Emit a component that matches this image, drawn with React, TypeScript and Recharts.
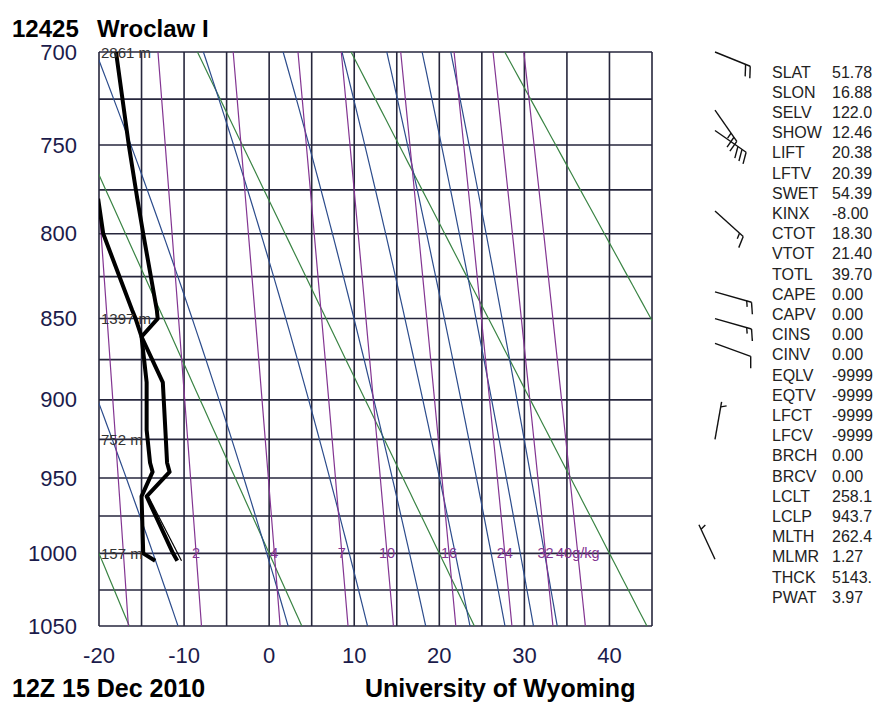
import React from "react";
import { ComposedChart, Line, Scatter, XAxis, YAxis, CartesianGrid } from "recharts";

const FONT = "'Liberation Sans', Arial, Helvetica, sans-serif";
const KAPPA = 0.286;
// vertical coordinate of the Stuve diagram: p^kappa
const py = (p: number) => Math.pow(p, KAPPA);

// sounding (hPa, degC)
const levels = [1005, 1000, 962, 946, 940, 919, 889, 861, 850, 845, 800, 780, 750, 700];
const temps = [-10.8, -11.3, -14.4, -11.7, -12.0, -12.2, -12.5, -15.0, -13.1, -13.2, -14.8, -15.5, -16.5, -18.0];
const dewpts = [-13.4, -14.8, -15.0, -13.7, -14.0, -14.4, -14.4, -15.0, -15.7, -16.1, -19.5, -20.1, null, null];

// thin parcel line near the ground
const parcelLevels = [1005, 962];
const parcelTemps = [-10.3, -14.2];

// geopotential heights written on the left
const heightLevels = [700, 850, 925, 1000];
const heightLabels = ["2861 m", "1397 m", "752 m", "157 m"];

// background lines
const dryAdiabats = [-20, 0, 20, 40, 60]; // theta, degC
const moistThetaE = [-10, 10, 30, 50, 70, 90, 110, 130]; // theta-e, degC
const mixingRatios = [1, 2, 4, 7, 10, 16, 24, 32, 40]; // g/kg
const mixingLabels = ["", "2", "4", "7", "10", "16", "24", "32", "40g/kg"];

// wind barbs (hPa, direction deg, speed kt)
const windLevels = [700, 731, 742, 787, 834, 850, 865, 925, 1004];
const windDirs = [112, 145, 125, 132, 106, 106, 110, 10, 335];
const windSpeeds = [20, 25, 30, 15, 15, 15, 10, 5, 5];

// station indices
const indexNames = ["SLAT", "SLON", "SELV", "SHOW", "LIFT", "LFTV", "SWET", "KINX", "CTOT", "VTOT", "TOTL", "CAPE", "CAPV", "CINS", "CINV", "EQLV", "EQTV", "LFCT", "LFCV", "BRCH", "BRCV", "LCLT", "LCLP", "MLTH", "MLMR", "THCK", "PWAT"];
const indexValues = ["51.78", "16.88", "122.0", "12.46", "20.38", "20.39", "54.39", "-8.00", "18.30", "21.40", "39.70", "0.00", "0.00", "0.00", "0.00", "-9999", "-9999", "-9999", "-9999", "0.00", "0.00", "258.1", "943.7", "262.4", "1.27", "5143.", "3.97"];

const pressureTicks = [700, 725, 750, 775, 800, 825, 850, 875, 900, 925, 950, 975, 1000, 1025, 1050];
const tempTicks = [-20, -15, -10, -5, 0, 5, 10, 15, 20, 25, 30, 35, 40, 45];

const GREEN = "#3a8444";
const BLUE = "#2c4c8c";
const PURPLE = "#833592";

const pGrid: number[] = [];
for (let p = 690; p <= 1060; p += 5) pGrid.push(p);

const satVap = (t: number) => 6.112 * Math.exp((17.67 * t) / (t + 243.5));
const mixRatio = (t: number, p: number) => {
  const e = satVap(t);
  return (622 * e) / (p - e);
};
const thetaE = (t: number, p: number) => {
  const tk = t + 273.15;
  const r = mixRatio(t, p);
  const th = tk * Math.pow(1000 / p, 0.2854 * (1 - 0.00028 * r));
  return th * Math.exp((3.376 / tk - 0.00254) * r * (1 + 0.00081 * r));
};
const tempOnThetaE = (target: number, p: number) => {
  let lo = -80;
  let hi = 60;
  for (let i = 0; i < 50; i++) {
    const mid = (lo + hi) / 2;
    if (thetaE(mid, p) > target) hi = mid;
    else lo = mid;
  }
  return (lo + hi) / 2;
};
const tempOnMixing = (w: number, p: number) => {
  const e = (w * p) / (622 + w);
  const l = Math.log(e / 6.112);
  return (243.5 * l) / (17.67 - l);
};

const dryLines = dryAdiabats.map((th) =>
  pGrid.map((p) => ({ t: (th + 273.15) * Math.pow(p / 1000, KAPPA) - 273.15, y: py(p) }))
);
const moistLines = moistThetaE.map((te) => pGrid.map((p) => ({ t: tempOnThetaE(te + 273.15, p), y: py(p) })));
const mixLines = mixingRatios.map((w) => pGrid.map((p) => ({ t: tempOnMixing(w, p), y: py(p) })));

const tempData = levels.map((p, i) => ({ t: temps[i], y: py(p) }));
const dewData = levels
  .map((p, i) => ({ t: dewpts[i], y: py(p) }))
  .filter((d) => d.t !== null);
const parcelData = parcelLevels.map((p, i) => ({ t: parcelTemps[i], y: py(p) }));
const heightData = heightLevels.map((p, i) => ({ t: -20, y: py(p), label: heightLabels[i] }));
const mixLabelData = mixingRatios
  .map((w, i) => ({ t: tempOnMixing(w, 1000), y: py(1000), label: mixingLabels[i] }))
  .filter((d) => d.label !== "");
const windData = windLevels.map((p, i) => ({ x: 0, y: py(p), dir: windDirs[i], spd: windSpeeds[i] }));

const PTick = (props: any) => {
  const { x, y, payload } = props;
  const p = Math.round(Math.pow(payload.value, 1 / KAPPA));
  if (p % 50 !== 0) return <g />;
  return (
    <text x={x - 22} y={y} textAnchor="end" dominantBaseline="central" fontSize={22} fontFamily={FONT} fill="#1b1b4b">
      {p}
    </text>
  );
};

const TTick = (props: any) => {
  const { x, y, payload } = props;
  if (payload.value % 10 !== 0) return <g />;
  return (
    <text x={x} y={y + 29} textAnchor="middle" dominantBaseline="central" fontSize={22} fontFamily={FONT} fill="#1b1b4b">
      {payload.value}
    </text>
  );
};

const Barb = (props: any) => {
  const { cx, cy, payload } = props;
  if (cx == null || cy == null) return <g />;
  const a = (payload.dir * Math.PI) / 180;
  const ux = Math.sin(a);
  const uy = -Math.cos(a);
  const tipX = cx + ux * 38;
  const tipY = cy + uy * 38;
  const tilt = (20 * Math.PI) / 180;
  const fx = -uy * Math.cos(tilt) + ux * Math.sin(tilt);
  const fy = ux * Math.cos(tilt) + uy * Math.sin(tilt);
  const full = Math.floor(payload.spd / 10);
  const half = payload.spd % 10 >= 5;
  const strokes = [];
  let k = 0;
  for (; k < full; k++) {
    const sx = tipX - ux * k * 5;
    const sy = tipY - uy * k * 5;
    strokes.push(<line key={k} x1={sx} y1={sy} x2={sx + fx * 12} y2={sy + fy * 12} />);
  }
  if (half) {
    const off = full === 0 ? 1 : k;
    const sx = tipX - ux * off * 5;
    const sy = tipY - uy * off * 5;
    strokes.push(<line key="h" x1={sx} y1={sy} x2={sx + fx * 6} y2={sy + fy * 6} />);
  }
  return (
    <g stroke="#111" strokeWidth={1.4} fill="none">
      <line x1={cx} y1={cy} x2={tipX} y2={tipY} />
      {strokes}
    </g>
  );
};

const bgLine = (data: any[], color: string, key: string) => (
  <Line
    key={key}
    data={data}
    dataKey="y"
    type="linear"
    stroke={color}
    strokeWidth={1.2}
    dot={false}
    activeDot={false}
    isAnimationActive={false}
  />
);

export default function App() {
  return (
    <div style={{ position: "absolute", left: 0, top: 0, width: 876, height: 702, background: "#fff", fontFamily: FONT }}>
      <div style={{ position: "absolute", left: 0, top: 0 }}>
        <ComposedChart width={876} height={702} margin={{ top: 52, right: 224, bottom: 0, left: 0 }}>
          <CartesianGrid stroke="#26263c" strokeWidth={1.6} />
          <XAxis
            type="number"
            dataKey="t"
            domain={[-20, 45]}
            ticks={tempTicks}
            interval={0}
            allowDataOverflow
            height={76}
            tickSize={0}
            tickMargin={0}
            axisLine={false}
            tickLine={false}
            tick={(p: any) => <TTick {...p} />}
          />
          <YAxis
            type="number"
            domain={[py(700), py(1050)]}
            reversed
            ticks={pressureTicks.map(py)}
            interval={0}
            allowDataOverflow
            width={99}
            tickSize={0}
            tickMargin={0}
            axisLine={false}
            tickLine={false}
            tick={(p: any) => <PTick {...p} />}
          />
          <XAxis xAxisId="lab" type="number" dataKey="t" domain={[-20, 45]} hide />
          <YAxis yAxisId="lab" type="number" dataKey="y" domain={[py(700), py(1050)]} reversed hide />
          {dryLines.map((d, i) => bgLine(d, GREEN, "dry" + i))}
          {moistLines.map((d, i) => bgLine(d, BLUE, "moist" + i))}
          {mixLines.map((d, i) => bgLine(d, PURPLE, "mix" + i))}
          <Line data={parcelData} dataKey="y" type="linear" stroke="#000" strokeWidth={1.2} dot={false} activeDot={false} isAnimationActive={false} />
          <Line data={dewData} dataKey="y" type="linear" stroke="#000" strokeWidth={4} strokeLinejoin="round" dot={false} activeDot={false} isAnimationActive={false} />
          <Line data={tempData} dataKey="y" type="linear" stroke="#000" strokeWidth={4} strokeLinejoin="round" dot={false} activeDot={false} isAnimationActive={false} />
          <Scatter
            xAxisId="lab"
            yAxisId="lab"
            data={heightData}
            isAnimationActive={false}
            shape={(p: any) => (
              <text x={p.cx + 2} y={p.cy} dominantBaseline="central" fontSize={15} fontFamily={FONT} fill="#333">
                {p.payload.label}
              </text>
            )}
          />
          <Scatter
            xAxisId="lab"
            yAxisId="lab"
            data={mixLabelData}
            isAnimationActive={false}
            shape={(p: any) => (
              <text x={p.cx} y={p.cy} textAnchor="middle" dominantBaseline="central" fontSize={14.5} fontFamily={FONT} fill={PURPLE}>
                {p.payload.label}
              </text>
            )}
          />
        </ComposedChart>
      </div>
      <div style={{ position: "absolute", left: 675, top: 0 }}>
        <ComposedChart width={80} height={702} margin={{ top: 52, right: 0, bottom: 76, left: 0 }}>
          <XAxis type="number" dataKey="x" domain={[-1, 1]} hide />
          <YAxis type="number" dataKey="y" domain={[py(700), py(1050)]} reversed hide />
          <Scatter data={windData} isAnimationActive={false} shape={(p: any) => <Barb {...p} />} />
        </ComposedChart>
      </div>
      <svg width={876} height={702} style={{ position: "absolute", left: 0, top: 0, pointerEvents: "none" }}>
        <g fontFamily={FONT} fontWeight="bold" fill="#000">
          <text x={12} y={37} fontSize={24}>12425</text>
          <text x={97} y={37} fontSize={24}>Wroclaw I</text>
          <text x={12} y={697} fontSize={25}>12Z 15 Dec 2010</text>
          <text x={365} y={697} fontSize={25}>University of Wyoming</text>
        </g>
        <g fontFamily={FONT} fontSize={16} fill="#222">
          {indexNames.map((n, i) => (
            <text key={n} x={772} y={72 + i * 20.2} dominantBaseline="central">
              {n}
            </text>
          ))}
          {indexValues.map((v, i) => (
            <text key={"v" + i} x={832} y={72 + i * 20.2} dominantBaseline="central">
              {v}
            </text>
          ))}
        </g>
      </svg>
    </div>
  );
}
